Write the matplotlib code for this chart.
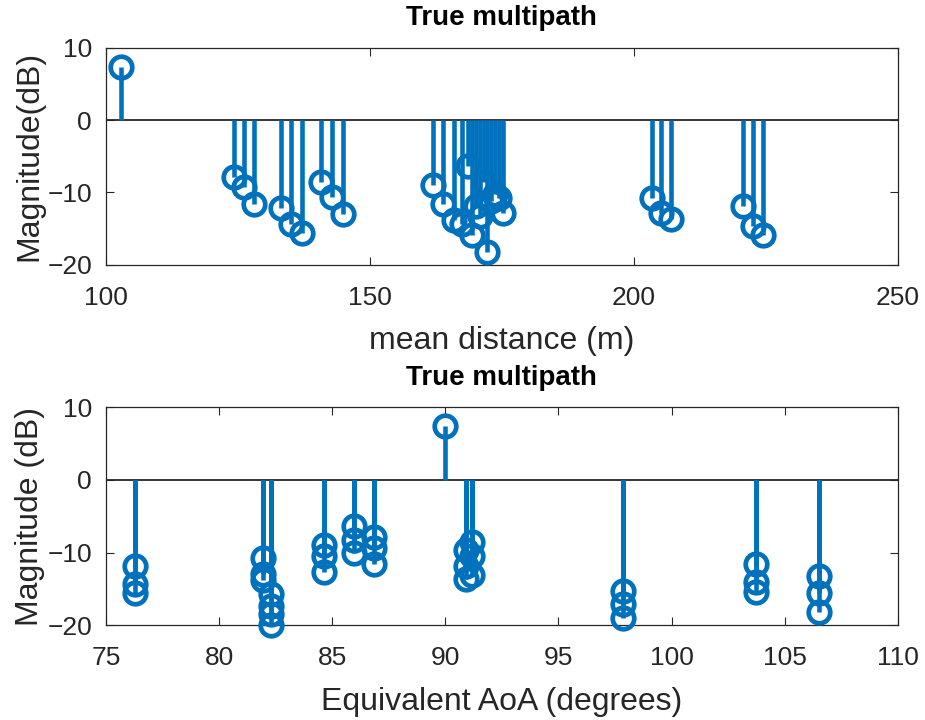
import matplotlib.pyplot as plt

plt.rcParams['font.family'] = ['Liberation Sans', 'DejaVu Sans']

# distance view: mean distance (m) vs magnitude (dB)
dist_m = [102.8,
          124.2, 126.1, 128.0,
          133.1, 135.1, 137.1,
          140.8, 142.9, 144.9,
          162.0, 163.9, 165.9, 167.5, 168.6, 169.3, 170.1,
          170.9, 171.6, 172.1, 172.9, 173.7, 174.5, 175.2,
          203.4, 205.2, 207.1,
          220.6, 222.5, 224.4]
dist_mag = [7.3,
            -7.9, -9.3, -11.6,
            -12.1, -14.4, -15.6,
            -8.5, -10.6, -13.0,
            -9.0, -11.6, -13.8, -14.4, -6.3, -15.9, -11.8,
            -13.2, -8.5, -18.2, -11.2, -10.2, -10.8, -12.8,
            -10.7, -12.8, -13.7,
            -11.9, -14.6, -15.8]

# angle view: equivalent AoA (degrees) vs magnitude (dB)
aoa_deg = [76.3, 76.3, 76.3,
           81.95, 81.95, 81.95,
           82.3, 82.3, 82.3, 82.3,
           84.65, 84.65, 84.65,
           85.95, 85.95, 85.95,
           86.85, 86.85, 86.85,
           90.0,
           90.9, 90.9, 90.9,
           91.2, 91.2, 91.2,
           97.85, 97.85, 97.85,
           103.75, 103.75, 103.75,
           106.5, 106.5, 106.5]
aoa_mag = [-11.8, -14.3, -15.6,
           -10.7, -12.9, -13.7,
           -15.7, -17.4, -18.4, -19.9,
           -8.9, -10.4, -12.7,
           -6.4, -8.2, -10.1,
           -7.9, -9.3, -11.5,
           7.4,
           -9.6, -11.9, -13.6,
           -8.6, -10.4, -13.1,
           -15.3, -17.1, -19.0,
           -11.6, -14.0, -15.4,
           -13.2, -15.5, -18.1]

dist_ticks = [100, 150, 200, 250]
aoa_ticks = [75, 80, 85, 90, 95, 100, 105, 110]
mag_ticks = [-20, -10, 0, 10]

BLUE = '#0072BD'
GRAY = '#262626'


def stem_panel(ax, x, y, xticks, xlabel, ylabel):
    markers, stems, base = ax.stem(x, y, basefmt=' ')
    plt.setp(stems, color=BLUE, linewidth=3.3)
    plt.setp(markers, color=BLUE, markerfacecolor='none', markersize=15.5,
             markeredgewidth=3.4, zorder=3, clip_on=False)
    ax.axhline(0, color='black', linewidth=1.1, zorder=1)

    ax.set_xlim(xticks[0], xticks[-1])
    ax.set_ylim(-20, 10)
    ax.set_xticks(xticks)
    ax.set_yticks(mag_ticks)
    ax.tick_params(direction='in', length=6, width=0.8, top=True, right=True,
                   labelsize=19, colors=GRAY)
    ax.tick_params(axis='x', pad=15)
    ax.tick_params(axis='y', pad=10)
    for s in ax.spines.values():
        s.set_color(GRAY)
        s.set_linewidth(0.9)

    ax.set_title('True multipath', fontsize=20, fontweight='bold', pad=16)
    ax.set_xlabel(xlabel, fontsize=23, color=GRAY, labelpad=12)
    ax.set_ylabel(ylabel, fontsize=23, color=GRAY, labelpad=2)


fig = plt.figure(figsize=(9.25, 7.2), dpi=100)
ax1 = fig.add_axes([0.1146, 0.632, 0.856, 0.302])
ax2 = fig.add_axes([0.1146, 0.1315, 0.856, 0.3028])

stem_panel(ax1, dist_m, dist_mag, dist_ticks, 'mean distance (m)', 'Magnitude(dB)')
stem_panel(ax2, aoa_deg, aoa_mag, aoa_ticks, 'Equivalent AoA (degrees)', 'Magnitude (dB)')

fig.savefig('out.png', dpi=100)
